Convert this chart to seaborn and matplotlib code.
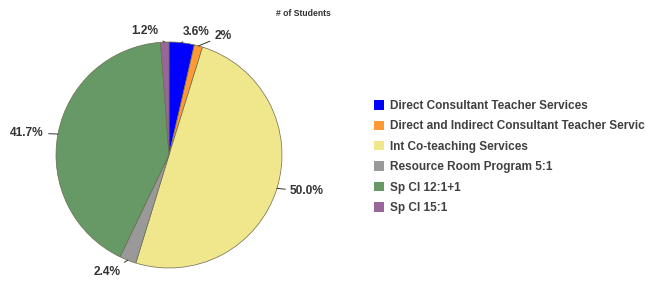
import numpy as np
import matplotlib
matplotlib.use("Agg")
import matplotlib.pyplot as plt
import seaborn as sns

categories = [
    "Direct Consultant Teacher Services",
    "Direct and Indirect Consultant Teacher Servic",
    "Int Co-teaching Services",
    "Resource Room Program 5:1",
    "Sp Cl 12:1+1",
    "Sp Cl 15:1",
]
values = [3.6, 1.2, 50.0, 2.4, 41.7, 1.2]
value_labels = ["3.6%", "2%", "50.0%", "2.4%", "41.7%", "1.2%"]
colors = ["#0000FF", "#FF9933", "#F0E68C", "#999999", "#669966", "#996699"]
title = "# of Students"

sns.set_theme(style="white")
plt.rcParams["font.family"] = ["Liberation Sans", "DejaVu Sans"]

W, H = 646, 281
fig = plt.figure(figsize=(W / 100, H / 100), dpi=100)
ax = fig.add_axes([0, 0, 1, 1])
palette = sns.color_palette(colors)

cx, cy, R = 169, 126, 113
wedges, _ = ax.pie(values, colors=palette, startangle=90, counterclock=False,
                   center=(cx, cy), radius=R,
                   wedgeprops=dict(edgecolor="#6b6b50", linewidth=0.5))
ax.set_xlim(0, W)
ax.set_ylim(0, H)
ax.set_aspect("equal")
ax.axis("off")

# label offsets in pixels (text relative to rim point), alignment
offsets = [(1, 11, "left"), (16, 10, "left"), (13, -3, "left"),
           (-7, -12, "right"), (-14, 1, "right"), (-6, 11, "right")]
for w, lab, (dx, dy, ha) in zip(wedges, value_labels, offsets):
    mid = np.deg2rad((w.theta1 + w.theta2) / 2)
    x = cx + R * np.cos(mid)
    y = cy + R * np.sin(mid)
    ax.annotate(lab, xy=(x, y), xytext=(dx, dy), textcoords="offset pixels",
                ha=ha, va="center", fontsize=8.6, fontweight="bold", color="#333333",
                arrowprops=dict(arrowstyle="-", color="#333333", lw=0.7,
                                shrinkA=1, shrinkB=0))

fig.text(303 / W, 1 - 13 / H, title, ha="center", va="center",
         fontsize=6.2, fontweight="bold", color="#333333")

leg = ax.legend(wedges, categories, loc="upper left",
                bbox_to_anchor=(374 / W, 1 - 100 / H), bbox_transform=fig.transFigure,
                frameon=False, fontsize=8.5, handlelength=0.85, handleheight=0.85,
                handletextpad=0.5, labelspacing=0.71, borderaxespad=0, borderpad=0)
for t in leg.get_texts():
    t.set_fontweight("bold")
    t.set_color("#404040")
for p in leg.get_patches():
    p.set_edgecolor("none")

fig.savefig("out.png", dpi=100)
